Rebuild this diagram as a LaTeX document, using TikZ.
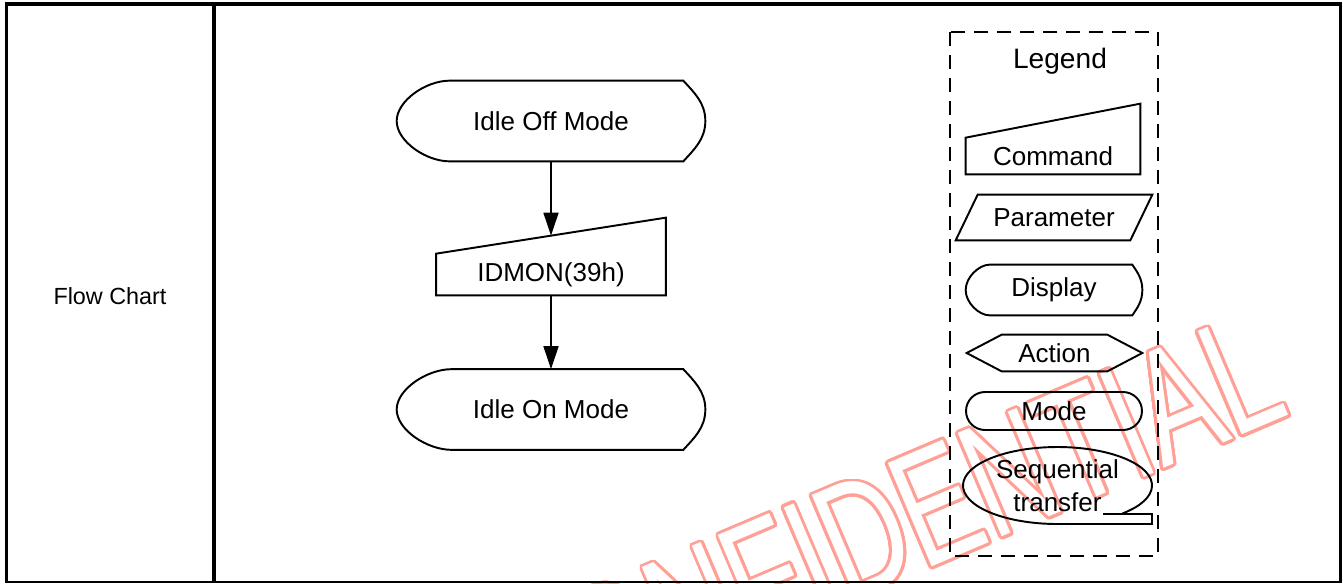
\documentclass[tikz,border=0pt]{standalone}
\usepackage{fontspec}
\setmainfont{Liberation Sans}
\newfontfamily\wmfont[FakeStretch=0.7]{Liberation Sans}
\usepackage[copies]{contour}
\contourlength{1.6pt}
\contournumber{32}
\usetikzlibrary{arrows.meta, positioning, calc, shapes.geometric}
\definecolor{wmred}{RGB}{255,160,150}

% display outline round a plain node: node, left depth, right depth
\newcommand\dispoutline[3]{%
  \draw[shapeline] ($(#1.north west)+(#2,0)$) -- ($(#1.north east)+(-#3,0)$)
    .. controls ($(#1.north east)!0.3!(#1.east)+(-0.5*#3,0)$) and ($(#1.north east)!0.55!(#1.east)$) .. (#1.east)
    .. controls ($(#1.south east)!0.55!(#1.east)$) and ($(#1.south east)!0.3!(#1.east)+(-0.5*#3,0)$) .. ($(#1.south east)+(-#3,0)$)
    -- ($(#1.south west)+(#2,0)$)
    .. controls ($(#1.south west)+(0.55*#2,0)$) and ($(#1.west)!0.5!(#1.south west)$) .. (#1.west)
    .. controls ($(#1.west)!0.5!(#1.north west)$) and ($(#1.north west)+(0.55*#2,0)$) .. cycle;
}
% command outline (sloped top): node, rise of the right edge
\newcommand\cmdoutline[2]{%
  \draw[shapeline] (#1.south west) -- (#1.north west) -- ($(#1.north east)+(0,-#2)$)
    -- (#1.south east) -- cycle;
  \coordinate (#1-top) at ($(#1.north west)!0.5!($(#1.north east)+(0,-#2)$)$);
}

\begin{document}
\begin{tikzpicture}[
        x=0.02cm, y=-0.02cm,
        font=\fontsize{14.8}{18.5}\selectfont,
        shapeline/.style={line width=1.1pt},
        frameline/.style={line width=2pt},
        flowarrow/.style={line width=0.9pt, -{Triangle[length=0.46cm, width=0.3cm]}},
        modebox/.style={inner sep=0pt, minimum width=6.16cm, minimum height=1.6cm},
        plainbox/.style={inner sep=0pt},
        legendframe/.style={line width=1.1pt, dash pattern=on 0.28cm off 0.18cm}
    ]
    \useasboundingbox (0,0) rectangle (1343,583);

    % ---- watermark ----
    \begin{scope}
        \clip (0,0) rectangle (1343,583);
        \node[rotate=23, anchor=base, text=white, font=\wmfont\fontsize{93}{93}\selectfont] (wm) at (906,578) {\contour{wmred}{CONFIDENTIAL}};
    \end{scope}

    % ---- table ----
    \draw[line width=2.3pt] (5,4) -- (1342,4);
    \draw[frameline] (6.5,4) -- (6.5,583);
    \draw[frameline] (214,4) -- (214,583);
    \draw[line width=1.7pt] (1340.5,4) -- (1340.5,583);
    \draw[line width=1.1pt] (5,582) -- (1342,582);
    \node[font=\fontsize{13.3}{16}\selectfont] (title) at (110,296) {Flow Chart};

    % ---- flow ----
    \node[modebox] (off) at (551,121) {Idle Off Mode};
    \dispoutline{off}{53}{22}
    \node[plainbox, minimum width=4.58cm, minimum height=0.82cm] (idmon) at (551,274.5) {IDMON(39h)};
    \cmdoutline{idmon}{36}
    \node[modebox] (on) at (551,409.5) {Idle On Mode};
    \dispoutline{on}{55}{22}

    \draw[flowarrow] (off.south) -- (idmon-top);
    \draw[flowarrow] (idmon.south) -- (on.north);

    % ---- legend ----
    \draw[legendframe] (950,32) rectangle (1158,556);
    \node[font=\fontsize{16}{19}\selectfont] (legendtitle) at (1060,61) {Legend};

    \node[plainbox, minimum width=3.48cm, minimum height=0.72cm] (lcmd) at (1053,156) {Command};
    \cmdoutline{lcmd}{34}

    \node[plainbox, minimum width=3.92cm, minimum height=0.9cm] (lpar) at (1054,217.5) {Parameter};
    \draw[shapeline] ($(lpar.north west)+(22,0)$) -- (lpar.north east) -- ($(lpar.south east)+(-22,0)$) -- (lpar.south west) -- cycle;

    \node[plainbox, minimum width=3.52cm, minimum height=1cm] (ldisp) at (1054,290) {Display};
    \dispoutline{ldisp}{24}{10}

    \node[plainbox, minimum width=3.5cm, minimum height=0.72cm] (lact) at (1054.5,353) {Action};
    \draw[shapeline] (lact.west) -- ($(lact.north west)+(35,0)$) -- ($(lact.north east)+(-35,0)$) -- (lact.east)
        -- ($(lact.south east)+(-35,0)$) -- ($(lact.south west)+(35,0)$) -- cycle;

    \node[draw, shapeline, rounded corners=0.38cm, minimum width=3.52cm, minimum height=0.76cm, inner sep=0pt] (lmode) at (1054,411) {Mode};

    \node[plainbox, minimum width=3.78cm, minimum height=1.54cm, align=center] (lseq) at (1057.5,485.5) {Sequential\\transfer};
    \draw[shapeline] ($(lseq.center)+(46.6:94.5 and 38.5)$) arc[start angle=46.6, end angle=-270, x radius=94.5, y radius=38.5]
        -- ++(94.5,0) -- ++(0,-10) -- ++(-49,0);

\end{tikzpicture}
\end{document}
